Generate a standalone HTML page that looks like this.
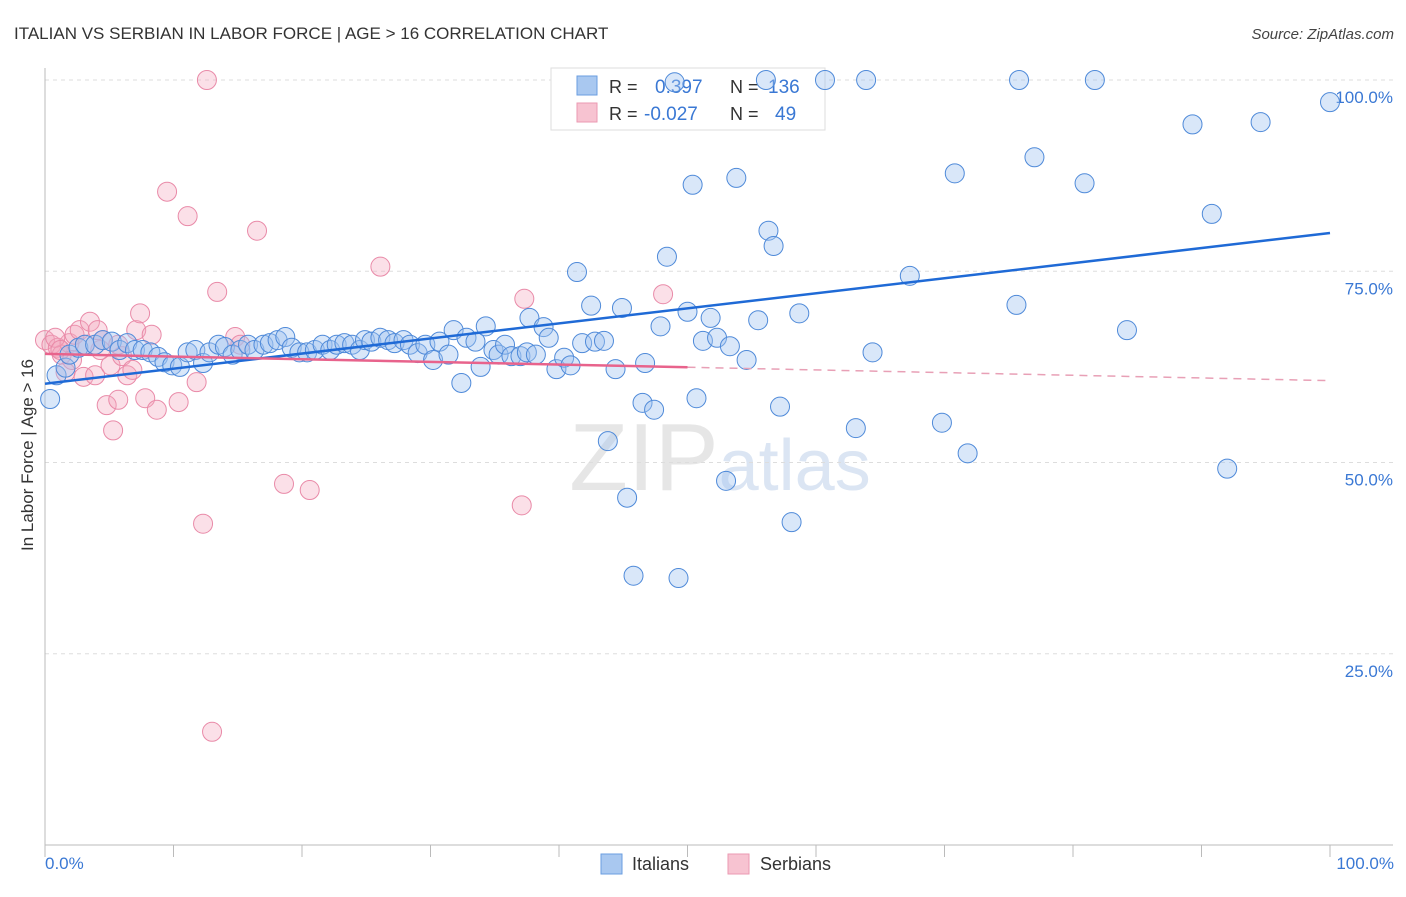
<!DOCTYPE html>
<html><head><meta charset="utf-8"><style>
body{margin:0;background:#fff;font-family:"Liberation Sans",sans-serif;}
svg text{font-family:"Liberation Sans",sans-serif;}
</style></head><body>
<svg id="chart" width="1406" height="892" xmlns="http://www.w3.org/2000/svg">
<text x="14" y="39" font-size="17" fill="#333">ITALIAN VS SERBIAN IN LABOR FORCE | AGE &gt; 16 CORRELATION CHART</text>
<text x="1394" y="39" font-size="15" fill="#444" text-anchor="end" font-style="italic">Source: ZipAtlas.com</text>
<text x="720" y="490" font-size="96" fill="#e6e6e6" text-anchor="middle" font-family="Liberation Serif">ZIP<tspan fill="#dbe5f3" font-family="Liberation Sans" font-size="72">atlas</tspan></text>
<g id="grid"></g>
<g id="axes"></g>
<g>
<rect x="551" y="68" width="274" height="62" fill="#fff" stroke="#ddd"/>
<rect x="577" y="76" width="20" height="19" fill="#a9c8f0" stroke="#6a9ee0"/>
<rect x="577" y="103" width="20" height="19" fill="#f7c3d1" stroke="#eb9ab2"/>
<text x="609" y="93" font-size="18" fill="#333">R = </text><text x="655" y="93" font-size="19" fill="#3a78d4">0.397</text>
<text x="730" y="93" font-size="18" fill="#333">N = </text><text x="768" y="93" font-size="19" fill="#3a78d4">136</text>
<text x="609" y="120" font-size="18" fill="#333">R = </text><text x="644" y="120" font-size="19" fill="#3a78d4">-0.027</text>
<text x="730" y="120" font-size="18" fill="#333">N = </text><text x="775" y="120" font-size="19" fill="#3a78d4">49</text>
</g>
<g id="marks"></g>
<g id="trends"></g>
<text transform="translate(33,455) rotate(-90)" font-size="17" fill="#333" text-anchor="middle">In Labor Force | Age &gt; 16</text>
<text x="45" y="869" font-size="17" fill="#3a78d4">0.0%</text>
<text x="1394" y="869" font-size="17" fill="#3a78d4" text-anchor="end">100.0%</text>
<g>
<rect x="601" y="854" width="21" height="20" fill="#a9c8f0" stroke="#6a9ee0"/>
<text x="632" y="870" font-size="18" fill="#333">Italians</text>
<rect x="728" y="854" width="21" height="20" fill="#f7c3d1" stroke="#eb9ab2"/>
<text x="760" y="870" font-size="18" fill="#333">Serbians</text>
</g>
</svg>
<script>
const yTicks=[25,50,75,100];
const yTickLabels=["25.0%","50.0%","75.0%","100.0%"];
const xTicks=[0,10,20,30,40,50,60,70,80,90,100];
const italianX=[0.4,0.9,1.6,1.9,2.6,3.1,3.9,4.5,5.2,5.8,6.4,7.0,7.6,8.2,8.8,9.3,9.9,10.5,11.1,11.7,12.3,12.8,13.5,14.0,14.6,15.2,15.8,16.3,17.0,17.5,18.1,18.7,19.2,19.8,20.4,21.0,21.6,22.2,22.7,23.3,23.9,24.5,24.9,25.4,26.1,26.7,27.2,27.9,28.4,29.0,29.6,30.2,30.7,31.4,31.8,32.4,32.8,33.5,33.9,34.3,34.9,35.3,35.8,36.3,37.0,37.5,37.7,38.2,38.8,39.2,39.8,40.4,40.9,41.4,41.8,42.5,42.8,43.5,43.8,44.4,44.9,45.3,45.8,46.5,46.7,47.4,47.9,48.4,49.3,50.0,50.4,50.7,51.2,51.8,52.3,53.0,53.3,53.8,54.6,55.5,56.1,56.3,56.7,57.2,58.1,58.7,60.7,63.1,63.9,64.4,67.3,69.8,70.8,71.8,75.6,75.8,77.0,80.9,81.7,84.2,89.3,90.8,92.0,94.6,100,49.0];
const italianY=[58.3,61.4,62.4,64.1,65.0,65.4,65.4,66.0,65.8,64.7,65.6,64.7,64.7,64.4,63.8,63.1,62.7,62.5,64.4,64.7,63.0,64.4,65.4,65.1,64.1,64.7,65.4,64.7,65.4,65.6,66.0,66.4,65.0,64.4,64.4,64.7,65.4,64.7,65.4,65.6,65.4,64.7,66.0,65.8,66.3,66.0,65.6,66.0,65.4,64.3,65.4,63.4,65.8,64.1,67.3,60.4,66.3,65.8,62.5,67.8,64.7,64.1,65.4,63.9,63.9,64.4,68.9,64.1,67.7,66.3,62.2,63.7,62.7,74.9,65.6,70.5,65.8,65.9,52.8,62.2,70.2,45.4,35.2,57.8,63.0,56.9,67.8,76.9,34.9,69.7,86.3,58.4,65.9,68.9,66.3,47.6,65.2,87.2,63.4,68.6,100,80.3,78.3,57.3,42.2,69.5,100,54.5,100,64.4,74.4,55.2,87.8,51.2,70.6,100,89.9,86.5,100,67.3,94.2,82.5,49.2,94.5,97.1,99.7];
const serbianX=[0,0.5,1.0,1.3,1.6,1.9,2.3,2.7,3.0,3.5,3.9,4.3,4.5,4.8,5.1,5.3,5.7,6.0,6.4,6.8,7.1,7.4,7.8,8.3,8.7,9.5,10.4,11.1,11.8,12.3,12.6,13.0,13.4,14.8,15.2,16.5,18.6,20.6,26.1,37.1,37.3,48.1,0.8,1.2,3.1,4.1,2.1,5.7];
const serbianY=[66.0,65.4,65.0,64.1,61.8,65.6,66.7,67.3,61.2,68.4,61.4,64.7,66.0,57.5,62.7,54.2,58.2,63.9,61.4,62.1,67.3,69.5,58.4,66.7,56.9,85.4,57.9,82.2,60.5,42.0,100,14.8,72.3,66.4,65.4,80.3,47.2,46.4,75.6,44.4,71.4,72.0,66.3,64.7,65.4,67.3,63.4,65.4];
const italianTrend=[60.3,80.0];
const serbianTrend=[64.2,60.7];
const serbianSolidEnd=50;

const NS="http://www.w3.org/2000/svg";
const X0=45,X1=1330,Y0=845,Y100=80;
const sx=v=>X0+(X1-X0)*v/100;
const sy=v=>Y0-(Y0-Y100)*v/100;
function mk(tag,attrs,parent){const e=document.createElementNS(NS,tag);for(const k in attrs)e.setAttribute(k,attrs[k]);parent.appendChild(e);return e;}
const grid=document.getElementById('grid'),axes=document.getElementById('axes'),marks=document.getElementById('marks'),trends=document.getElementById('trends');
yTicks.forEach((t,i)=>{
 const l=mk('line',{x1:X0,x2:1393,y1:sy(t),y2:sy(t),stroke:'#ddd','stroke-dasharray':'4,4'},grid);
 
 
 const tx=mk('text',{x:1393,y:sy(t)+23,'font-size':17,fill:'#3a78d4','text-anchor':'end'},grid);
 tx.textContent=yTickLabels[i];
 
 
});
const ya=mk('line',{x1:X0,x2:X0,y1:68,y2:Y0,stroke:'#bbb'},axes);


const xa=mk('line',{x1:X0,x2:1393,y1:Y0,y2:Y0,stroke:'#bbb'},axes);


xTicks.forEach(t=>{
 const l=mk('line',{x1:sx(t),x2:sx(t),y1:Y0,y2:Y0+12,stroke:'#bbb'},axes);
 
 
});
serbianX.forEach((x,i)=>{
 const c=mk('circle',{cx:sx(x),cy:sy(serbianY[i]),r:9.5,fill:'rgba(244,166,190,0.35)',stroke:'#e98aa8','stroke-width':1},marks);
 
 
});
italianX.forEach((x,i)=>{
 const c=mk('circle',{cx:sx(x),cy:sy(italianY[i]),r:9.5,fill:'rgba(160,196,240,0.4)',stroke:'#4f8ad9','stroke-width':1},marks);
 
 
});
const bt=mk('line',{x1:sx(0),y1:sy(italianTrend[0]),x2:sx(100),y2:sy(italianTrend[1]),stroke:'#1f6ad6','stroke-width':2.5},trends);


const pyAt=x=>serbianTrend[0]+(serbianTrend[1]-serbianTrend[0])*x/100;
const ps=mk('line',{x1:sx(0),y1:sy(pyAt(0)),x2:sx(serbianSolidEnd),y2:sy(pyAt(serbianSolidEnd)),stroke:'#e8638c','stroke-width':2.5},trends);


const pd=mk('line',{x1:sx(serbianSolidEnd),y1:sy(pyAt(serbianSolidEnd)),x2:sx(100),y2:sy(pyAt(100)),stroke:'#e8a0b6','stroke-width':1.5,'stroke-dasharray':'8,6'},trends);


</script>
</body></html>
